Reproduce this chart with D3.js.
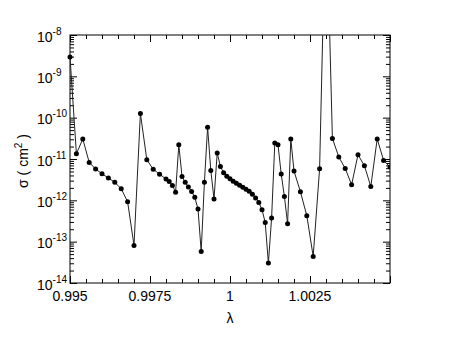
<!DOCTYPE html>
<html>
<head>
<meta charset="utf-8">
<script src="https://cdn.jsdelivr.net/npm/d3@7"></script>
<style>
  body { margin: 0; background: #fff; }
  text { font-family: "Liberation Sans", Arial, Helvetica, sans-serif; fill: #000; }
</style>
</head>
<body>
<script>
// wavelength grid (dense near the middle)
var lambdaVals = [0.9950, 0.9952, 0.9954, 0.9956, 0.9958, 0.9960, 0.9962, 0.9964, 0.9966, 0.9968,
    0.9970, 0.9972, 0.9974, 0.9976, 0.9978,
    0.9980, 0.9981, 0.9982, 0.9983, 0.9984, 0.9985, 0.9986, 0.9987, 0.9988, 0.9989,
    0.9990, 0.9991, 0.9992, 0.9993, 0.9994, 0.9995, 0.9996, 0.9997, 0.9998, 0.9999,
    1.0000, 1.0001, 1.0002, 1.0003, 1.0004, 1.0005, 1.0006, 1.0007, 1.0008, 1.0009,
    1.0010, 1.0011, 1.0012, 1.0013, 1.0014, 1.0015, 1.0016, 1.0017, 1.0018, 1.0019, 1.0020,
    1.0022, 1.0024, 1.0026, 1.0028, 1.0030, 1.0032, 1.0034, 1.0036, 1.0038, 1.0040,
    1.0042, 1.0044, 1.0046, 1.0048, 1.0050];

var sigmaVals = [2.94e-9, 1.34e-11, 3.05e-11, 8.28e-12, 5.73e-12, 4.41e-12, 3.47e-12, 2.72e-12, 1.91e-12, 9.27e-13,
    8.11e-14, 1.27e-10, 9.62e-12, 5.66e-12, 4.29e-12,
    3.28e-12, 2.87e-12, 2.30e-12, 1.57e-12, 2.22e-11, 3.79e-12, 2.72e-12, 2.10e-12, 1.64e-12, 1.18e-12,
    6.17e-13, 5.81e-14, 2.72e-12, 5.87e-11, 5.30e-12, 1.08e-12, 1.40e-11, 6.62e-12, 4.66e-12, 3.84e-12,
    3.33e-12, 2.90e-12, 2.59e-12, 2.32e-12, 2.07e-12, 1.86e-12, 1.66e-12, 1.41e-12, 1.14e-12, 8.91e-13,
    5.93e-13, 2.92e-13, 3.04e-14, 3.73e-13, 2.44e-11, 2.22e-11, 4.34e-12, 1.24e-12, 2.72e-13, 3.05e-11, 5.12e-12,
    1.62e-12, 4.25e-13, 4.40e-14, 5.82e-12, 3.0e-5, 3.15e-11, 1.12e-11, 5.92e-12, 2.39e-12, 1.27e-11,
    6.89e-12, 2.17e-12, 3.05e-11, 9.25e-12, 6.40e-12];

var xMajor = [0.995, 0.9975, 1, 1.0025, 1.005];
var xLabels = ["0.995", "0.9975", "1", "1.0025", ""];
var xMinor = [0.9955, 0.996, 0.9965, 0.997, 0.998, 0.9985, 0.999, 0.9995,
    1.0005, 1.001, 1.0015, 1.002, 1.003, 1.0035, 1.004, 1.0045];
var yDecades = [1e-14, 1e-13, 1e-12, 1e-11, 1e-10, 1e-9, 1e-8];
var yExp = ["-14", "-13", "-12", "-11", "-10", "-9", "-8"];

var W = 458, H = 354;
var margin = {left: 70, top: 35, right: 68, bottom: 71};
var w = W - margin.left - margin.right,
    h = H - margin.top - margin.bottom;

var svg = d3.select("body").append("svg").attr("width", W).attr("height", H);
var g = svg.append("g").attr("transform", "translate(" + margin.left + "," + margin.top + ")");

var xScale = d3.scaleLinear().domain([0.995, 1.005]).range([0, w]);
var yScale = d3.scaleLog().domain([1e-14, 1e-8]).range([h, 0]);

// minor log ticks
var yMinor = [];
yDecades.slice(0, -1).forEach(function (d) {
    for (var m = 2; m <= 9; m++) yMinor.push(d * m);
});

function styleAxis(sel) {
    sel.select(".domain").remove();
    sel.selectAll("line").attr("stroke", "#000").attr("stroke-width", 1);
    sel.selectAll("text").remove();
}

// bottom / top
g.append("g").attr("transform", "translate(0," + h + ")")
    .call(d3.axisBottom(xScale).tickValues(xMajor).tickSize(-7)).call(styleAxis);
g.append("g").attr("transform", "translate(0," + h + ")")
    .call(d3.axisBottom(xScale).tickValues(xMinor).tickSize(-4)).call(styleAxis);
g.append("g")
    .call(d3.axisTop(xScale).tickValues(xMajor).tickSize(-7)).call(styleAxis);
g.append("g")
    .call(d3.axisTop(xScale).tickValues(xMinor).tickSize(-4)).call(styleAxis);

// left / right
g.append("g").call(d3.axisLeft(yScale).tickValues(yDecades).tickSize(-7)).call(styleAxis);
g.append("g").call(d3.axisLeft(yScale).tickValues(yMinor).tickSize(-4)).call(styleAxis);
g.append("g").attr("transform", "translate(" + w + ",0)")
    .call(d3.axisRight(yScale).tickValues(yDecades).tickSize(-7)).call(styleAxis);
g.append("g").attr("transform", "translate(" + w + ",0)")
    .call(d3.axisRight(yScale).tickValues(yMinor).tickSize(-4)).call(styleAxis);

g.append("rect").attr("width", w).attr("height", h)
    .attr("fill", "none").attr("stroke", "#000").attr("stroke-width", 1);

// x tick labels
g.selectAll(".xlab").data(xMajor).enter().append("text")
    .attr("class", "xlab")
    .attr("x", function (d) { return xScale(d); })
    .attr("y", h + 18)
    .attr("text-anchor", "middle")
    .style("font-size", "14px")
    .text(function (d, i) { return xLabels[i]; });

// y tick labels 10^n, left aligned
var ylab = g.selectAll(".ylab").data(yDecades).enter().append("text")
    .attr("class", "ylab")
    .attr("x", -33)
    .attr("y", function (d) { return yScale(d) + 6.5; })
    .style("font-size", "14px");
ylab.append("tspan").text("10");
ylab.append("tspan").attr("dy", -7).style("font-size", "10px")
    .text(function (d, i) { return yExp[i]; });

// axis titles
var yt = svg.append("text")
    .attr("transform", "translate(28," + (margin.top + h / 2 + 2) + ") rotate(-90)")
    .attr("text-anchor", "middle")
    .style("font-size", "14px");
yt.append("tspan").text("\u03c3 ( cm");
yt.append("tspan").attr("dy", -6).style("font-size", "10px").text("2");
yt.append("tspan").attr("dy", 6).text(" )");

svg.append("text")
    .attr("x", margin.left + xScale(1))
    .attr("y", margin.top + h + 40)
    .attr("text-anchor", "middle")
    .style("font-size", "14px")
    .text("\u03bb");

// data
var pts = lambdaVals.map(function (l, i) { return {x: l, y: sigmaVals[i]}; });

var defs = svg.append("defs");
defs.append("clipPath").attr("id", "clip")
    .append("rect").attr("width", w).attr("height", h);
defs.append("clipPath").attr("id", "clipdots")
    .append("rect").attr("x", -4).attr("width", w + 4).attr("height", h);

var lineFn = d3.line()
    .x(function (d) { return xScale(d.x); })
    .y(function (d) { return yScale(d.y); });

g.append("g").attr("clip-path", "url(#clip)").append("path")
    .attr("d", lineFn(pts))
    .attr("fill", "none")
    .attr("stroke", "#222")
    .attr("stroke-width", 1);

g.append("g").attr("clip-path", "url(#clipdots)")
    .selectAll("circle").data(pts).enter().append("circle")
    .attr("cx", function (d) { return xScale(d.x); })
    .attr("cy", function (d) { return yScale(d.y); })
    .attr("r", 2.5)
    .attr("fill", "#000");
</script>
</body>
</html>
